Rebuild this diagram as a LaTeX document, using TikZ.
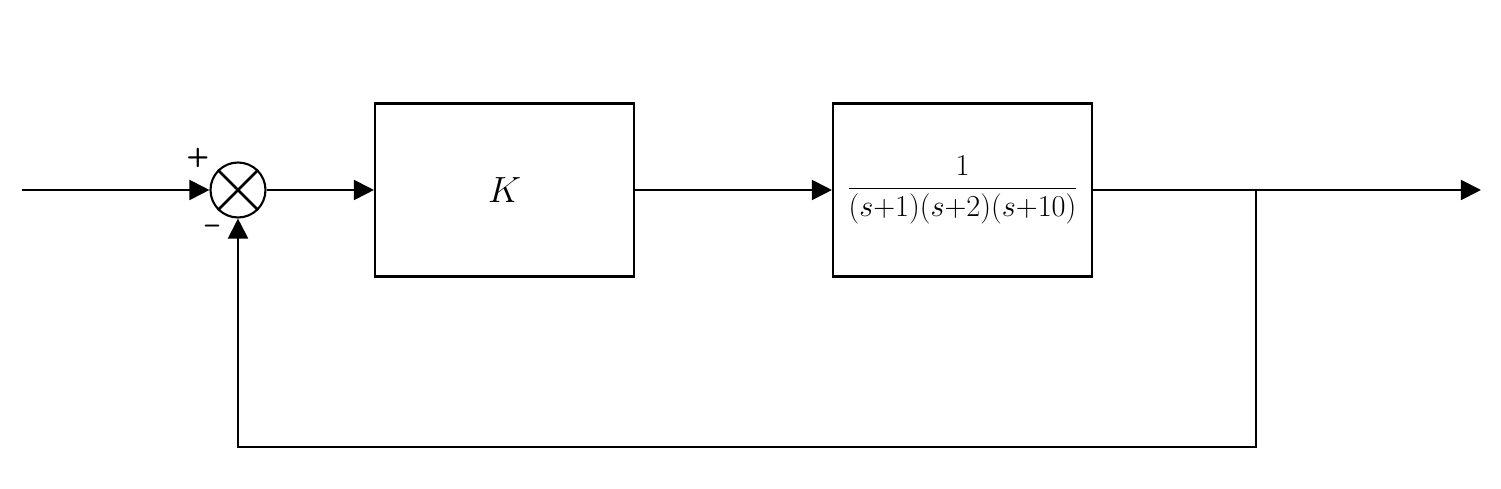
\documentclass[tikz,border=0pt]{standalone}
\usepackage{amsmath}
\usepackage{tikz}
\usetikzlibrary{shapes,arrows.meta}

\begin{document}
\begin{tikzpicture}[scale=0.2]
        \tikzstyle{every node}+=[inner sep=0pt]
        \tikzstyle{blk}=[draw, line width=1.2pt, minimum width=5.18cm, minimum height=3.46cm]
        \tikzstyle{sumj}=[draw, circle, line width=1.2pt, minimum size=1.1cm]
        \tikzstyle{sig}=[line width=1.1pt, -{Triangle[length=0.4cm, width=0.4cm]}]
        \tikzstyle{wire}=[line width=1.6pt]
        \tikzstyle{sgn}=[font=\fontsize{15}{17}\selectfont\sffamily\bfseries]
        \useasboundingbox (0,0) rectangle (150.1,-48.9);
        \node [sumj] (sum) at (23.8,-19) {};
        \node [blk] (ctrl) at (50.45,-19) {\fontsize{21}{24}\selectfont $K$};
        \node [blk] (plant) at (96.25,-19) {\fontsize{16}{19}\selectfont $\dfrac{1}{(s{+}1)(s{+}2)(s{+}10)}$};
        \node [sgn] (plus) at (19.8,-15.8) {+};
        \node [sgn] (minus) at (21.2,-22.9) {--};
        \coordinate (in) at (2.2,-19);
        \coordinate (out) at (148.1,-19);
        \coordinate (br) at (125.6,-19);
        \coordinate (fb) at (125.6,-44.7);
        \draw [wire] (sum.north west) -- (sum.south east);
        \draw [wire] (sum.north east) -- (sum.south west);
        \draw [sig] (in) -- (sum.west);
        \draw [sig] (sum.east) -- (ctrl.west);
        \draw [sig] (ctrl.east) -- (plant.west);
        \draw [sig] (plant.east) -- (out);
        \draw [sig] (br) -- (fb) -| (sum.south);
\end{tikzpicture}
\end{document}
